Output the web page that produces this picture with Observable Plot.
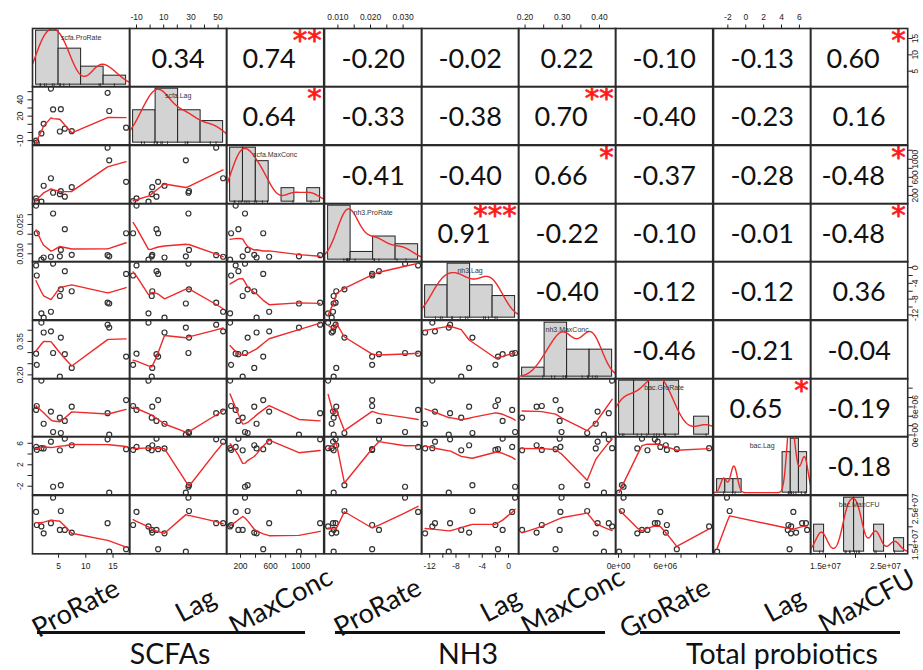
<!DOCTYPE html>
<html>
<head>
<meta charset="utf-8">
<script src="https://cdn.jsdelivr.net/npm/d3@7"></script>
<script src="https://cdn.jsdelivr.net/npm/@observablehq/plot@0.6"></script>
<style>
  body { margin: 0; background: #fff; }
  #chart { position: relative; width: 923px; height: 670px; overflow: hidden; background: #fff; font-family: "Liberation Sans", Arial, sans-serif; }
  #chart svg { position: absolute; overflow: visible; }
  .vname { position: absolute; font-family: Lato, "Open Sans", sans-serif; font-size: 27px; line-height: 1; color: #111; white-space: nowrap; transform: translate(-50%, -50%) rotate(-28deg); }
  .gname { position: absolute; font-family: Lato, "Open Sans", sans-serif; font-size: 28.5px; line-height: 1; color: #111; white-space: nowrap; transform: translate(-50%, -50%); }
  .gline { position: absolute; height: 3px; background: #111; }
</style>
</head>
<body>
<div id="chart"></div>
<script>
// ---------------- data (13 observations) ----------------
const varNames = ["scfa.ProRate", "scfa.Lag", "scfa.MaxConc", "nh3.ProRate", "nh3.Lag", "nh3.MaxConc", "bac.GroRate", "bac.Lag", "bac.MaxCFU"];
const scfaProRate = [0.88, 1.0, 1.85, 2.27, 3.6, 4.0, 5.24, 5.42, 6.15, 7.42, 14.0, 14.3, 17.4];
const scfaLag     = [-10, -12.5, -1.2, 10.6, 53.7, 28.2, 1.2, 28.6, 4.7, 1.6, 48.6, 26.3, 5.9];
const scfaMaxConc = [136, 75, 62, 414, 581, 260, 229, 295, 172, 383, 1258, 977, 502];
const nh3ProRate  = [0.0346, 0.0205, 0.0070, 0.0081, 0.0085, 0.0306, 0.0087, 0.0120, 0.0226, 0.0095, 0.0093, 0.0087, 0.0205];
const nh3Lag      = [0.55, -2.0, -11.6, -12.7, -11.2, 1.0, -7.2, -5.5, -0.9, -6.0, -8.9, -9.1, -1.6];
const nh3MaxConc  = [0.295, 0.245, 0.434, 0.39, 0.395, 0.298, 0.192, 0.367, 0.293, 0.231, 0.425, 0.412, 0.282];
const bacGroRate  = [5.35e6, 6.19e6, 11.6e6, 2.4e6, 5.0e6, 0.64e6, 3.7e6, 0.43e6, 3.0e6, 6.05e6, 4.65e6, 0.07e6, 7.46e6];
const bacLag      = [5.32, 4.77, 5.08, 5.05, 6.3, -2.1, 4.7, -1.8, 6.86, 5.63, 6.73, -3.2, 4.9];
const bacMaxCFU   = [24.15e6, 20.5e6, 20.1e6, 18.2e6, 21.0e6, 28.1e6, 19.15e6, 24.4e6, 19.15e6, 18.4e6, 21.0e6, 13.1e6, 13.8e6];

// histogram breaks for each variable
const histBreaks = [
  [0, 5, 10, 15, 20],
  [-20, 0, 20, 40, 60],
  [0, 200, 400, 600, 800, 1000, 1200, 1400],
  [0, 0.01, 0.02, 0.03, 0.04],
  [-15, -10, -5, 0, 5],
  [0.1, 0.2, 0.3, 0.4, 0.5],
  [0, 2e6, 4e6, 6e6, 8e6, 10e6, 12e6],
  [-4, -3, -2, -1, 0, 1, 2, 3, 4, 5, 6, 7],
  [12e6, 14e6, 16e6, 18e6, 20e6, 22e6, 24e6, 26e6, 28e6, 30e6]
];

// axis ticks and tick labels ("" = tick without label)
const axisTicks = [
  [5, 10, 15],
  [-10, 0, 10, 20, 30, 40, 50],
  [200, 400, 600, 800, 1000, 1200],
  [0.010, 0.015, 0.020, 0.025, 0.030],
  [-12, -10, -8, -6, -4, -2, 0],
  [0.20, 0.25, 0.30, 0.35, 0.40],
  [0, 2e6, 4e6, 6e6, 8e6, 10e6],
  [-2, 0, 2, 4, 6],
  [1.5e7, 2e7, 2.5e7]
];
const xAxisLabels = [
  ["5", "10", "15"],
  ["-10", "", "10", "", "30", "", "50"],
  ["200", "", "600", "", "1000", ""],
  ["0.010", "", "0.020", "", "0.030"],
  ["-12", "", "-8", "", "-4", "", "0"],
  ["0.20", "", "0.30", "", "0.40"],
  ["0e+00", "", "", "6e+06", "", ""],
  ["-2", "0", "2", "4", "6"],
  ["1.5e+07", "", "2.5e+07"]
];
const yAxisLabels = [
  ["5", "10", "15"],
  ["-10", "", "", "20", "", "40", ""],
  ["200", "", "600", "", "1000", ""],
  ["0.010", "", "", "0.025", ""],
  ["-12", "", "-8", "", "-4", "", "0"],
  ["0.20", "", "", "0.35", ""],
  ["0e+00", "", "", "6e+06", "", ""],
  ["-2", "", "2", "", "6"],
  ["1.5e+07", "", "2.5e+07"]
];

// upper-triangle correlation text (row by row) and significance stars
const corrText = [
  ["0.34", "0.74", "-0.20", "-0.02", "0.22", "-0.10", "-0.13", "0.60"],
  ["0.64", "-0.33", "-0.38", "0.70", "-0.40", "-0.23", "0.16"],
  ["-0.41", "-0.40", "0.66", "-0.37", "-0.28", "-0.48"],
  ["0.91", "-0.22", "-0.10", "-0.01", "-0.48"],
  ["-0.40", "-0.12", "-0.12", "0.36"],
  ["-0.46", "-0.21", "-0.04"],
  ["0.65", "-0.19"],
  ["-0.18"]
];
const corrStars = [
  ["", "**", "", "", "", "", "", "*"],
  ["*", "", "", "**", "", "", ""],
  ["", "", "*", "", "", "*"],
  ["***", "", "", "", "*"],
  ["", "", "", ""],
  ["", "", ""],
  ["*", ""],
  [""]
];

const varLabels = ["ProRate", "Lag", "MaxConc", "ProRate", "Lag", "MaxConc", "GroRate", "Lag", "MaxCFU"];
const groups = ["SCFAs", "NH3", "Total probiotics"];

// ---------------- helpers ----------------
const vars = [scfaProRate, scfaLag, scfaMaxConc, nh3ProRate, nh3Lag, nh3MaxConc, bacGroRate, bacLag, bacMaxCFU];
const N = scfaProRate.length;
const rows = d3.range(N).map(k => Object.fromEntries(vars.map((v, i) => ["v" + i, v[k]])));

function padDomain(lo, hi) { const p = 0.04 * (hi - lo); return [lo - p, hi + p]; }
const domains = vars.map(v => padDomain(d3.min(v), d3.max(v)));

function lowess(xIn, yIn, f = 2 / 3, iter = 3) {
  const n = xIn.length;
  const order = d3.range(n).sort((a, b) => xIn[a] - xIn[b]);
  const x = order.map(k => xIn[k]), y = order.map(k => yIn[k]);
  const ys = new Array(n).fill(0), rw = new Array(n).fill(1);
  const ns = Math.max(2, Math.min(n, Math.floor(f * n + 1e-7)));
  const range = x[n - 1] - x[0];
  function lowest(xs, nleft, nright, userw) {
    const h = Math.max(xs - x[nleft], x[nright] - xs);
    const h9 = 0.999 * h, h1 = 0.001 * h;
    const w = new Array(n).fill(0);
    let a = 0, j = nleft;
    while (j < n) {
      const r = Math.abs(x[j] - xs);
      if (r <= h9) {
        w[j] = r <= h1 ? 1 : Math.pow(1 - Math.pow(r / h, 3), 3);
        if (userw) w[j] *= rw[j];
        a += w[j];
      } else if (x[j] > xs) break;
      j++;
    }
    const nrt = j - 1;
    if (a <= 0) return null;
    for (j = nleft; j <= nrt; j++) w[j] /= a;
    if (h > 0) {
      let xb = 0;
      for (j = nleft; j <= nrt; j++) xb += w[j] * x[j];
      let b = xs - xb, c = 0;
      for (j = nleft; j <= nrt; j++) c += w[j] * (x[j] - xb) * (x[j] - xb);
      if (Math.sqrt(c) > 0.001 * range) {
        b /= c;
        for (j = nleft; j <= nrt; j++) w[j] *= (b * (x[j] - xb) + 1);
      }
    }
    let s = 0;
    for (j = nleft; j <= nrt; j++) s += w[j] * y[j];
    return s;
  }
  for (let it = 1; it <= iter + 1; it++) {
    let nleft = 0, nright = ns - 1;
    for (let i = 0; i < n; i++) {
      while (nright < n - 1) {
        const d1 = x[i] - x[nleft], d2 = x[nright + 1] - x[i];
        if (d1 <= d2) break;
        nleft++; nright++;
      }
      const v = lowest(x[i], nleft, nright, it > 1);
      ys[i] = v === null ? y[i] : v;
    }
    if (it > iter) break;
    const ares = y.map((yv, k) => Math.abs(yv - ys[k]));
    const sc = d3.sum(ares) / n;
    const sorted = ares.slice().sort((p, q) => p - q);
    const m1 = Math.floor(n / 2);
    const cmad = n % 2 === 0 ? 3 * (sorted[m1 - 1] + sorted[m1]) : 6 * sorted[m1];
    if (cmad < 1e-7 * sc) break;
    const c9 = 0.999 * cmad, c1 = 0.001 * cmad;
    for (let k = 0; k < n; k++) {
      const r = ares[k];
      rw[k] = r <= c1 ? 1 : r > c9 ? 0 : Math.pow(1 - (r / cmad) * (r / cmad), 2);
    }
  }
  return x.map((xv, k) => ({x: xv, y: ys[k]}));
}

function kde(v) {
  const n = v.length;
  const s = v.slice().sort(d3.ascending);
  const sd = d3.deviation(v);
  const iqr = d3.quantileSorted(s, 0.75) - d3.quantileSorted(s, 0.25);
  let lo = Math.min(sd, iqr / 1.34);
  if (!(lo > 0)) lo = sd;
  const bw = 0.9 * lo * Math.pow(n, -0.2);
  const from = s[0] - 3 * bw, to = s[n - 1] + 3 * bw;
  return d3.range(512).map(k => {
    const x = from + (to - from) * k / 511;
    const y = d3.sum(v, xi => Math.exp(-0.5 * ((x - xi) / bw) ** 2)) / (n * bw * Math.sqrt(2 * Math.PI));
    return {x, y};
  });
}

// ---------------- layout ----------------
const X0 = 32, Y0 = 28, CW = 875 / 9, CH = 525 / 9;
const RED = "#f02828";
const FRAME = {stroke: "#2a2a2a", strokeWidth: 1.6};
const chart = document.getElementById("chart");
const baseStyle = {background: "transparent", overflow: "visible", fontSize: "8.5px", fontFamily: "'Liberation Sans', Arial, sans-serif", color: "#222"};

function place(svg, col, row) {
  svg.style.left = (X0 + col * CW) + "px";
  svg.style.top = (Y0 + row * CH) + "px";
  chart.appendChild(svg);
}

function scatterCell(i, j) {
  return Plot.plot({
    width: CW, height: CH, margin: 0, style: baseStyle,
    x: {domain: domains[j], axis: null},
    y: {domain: domains[i], axis: null},
    marks: [
      Plot.dot(rows, {x: "v" + j, y: "v" + i, r: 2.5, stroke: "#333", strokeWidth: 1.2, fill: "none", clip: true}),
      Plot.line(lowess(vars[j], vars[i]), {x: "x", y: "y", stroke: RED, strokeWidth: 1.4, clip: true}),
      Plot.frame(FRAME)
    ]
  });
}

function diagCell(i) {
  const v = vars[i], br = histBreaks[i];
  const w = br[1] - br[0];
  const counts = d3.range(br.length - 1).map(k => v.filter(d => d > br[k] && d <= br[k + 1]).length);
  const maxD = d3.max(counts) / (N * w);
  return Plot.plot({
    width: CW, height: CH, margin: 0, style: baseStyle,
    x: {domain: padDomain(br[0], br[br.length - 1]), axis: null},
    y: {domain: padDomain(0, maxD), axis: null},
    marks: [
      Plot.rectY(v, Plot.binX({y: (vals) => vals.length / (N * w), filter: null}, {x: d => d, thresholds: br, fill: "#d3d3d3", stroke: "#222", strokeWidth: 1, inset: 0})),
      Plot.line(kde(v), {x: "x", y: "y", stroke: RED, strokeWidth: 1.4, clip: true}),
      Plot.tickX(v, {x: d => d, insetTop: CH - 3, stroke: "#222", strokeWidth: 0.8}),
      Plot.text([varNames[i]], {frameAnchor: "top", dy: 7, fontSize: 7, fill: "#333"}),
      Plot.frame(FRAME)
    ]
  });
}

function textCell(i, j) {
  const txt = corrText[i][j - i - 1];
  const st = corrStars[i][j - i - 1];
  const shift = st ? -6 : 0;
  return Plot.plot({
    width: CW, height: CH, margin: 0, style: baseStyle,
    marks: [
      Plot.text([txt], {frameAnchor: "middle", dx: shift, dy: 2, fontSize: 27, fontFamily: "Lato, 'Open Sans', sans-serif", fill: "#111"}),
      Plot.text([st], {frameAnchor: "top-right", textAnchor: "end", lineAnchor: "middle", dx: -2, dy: 12, fontSize: 29, fontFamily: "'DejaVu Sans', sans-serif", fill: "#ff1a1a", stroke: "#ff1a1a", strokeWidth: 0.8}),
      Plot.frame(FRAME)
    ]
  });
}

function axisCell(v, anchor, col, row) {
  const isX = anchor === "top" || anchor === "bottom";
  const labs = isX ? xAxisLabels[v] : yAxisLabels[v];
  const m = new Map(axisTicks[v].map((t, k) => [t, labs[k]]));
  const sc = {domain: domains[v], axis: anchor, ticks: axisTicks[v], tickFormat: d => m.get(d) ?? "", tickSize: 4.5, tickPadding: isX ? 4.5 : 5.5, label: null};
  if (!isX) sc.tickRotate = -90;
  const opts = {width: CW, height: CH, margin: 0, style: baseStyle,
    marks: [isX ? Plot.ruleX(domains[v], {x: d => d, stroke: "none"}) : Plot.ruleY(domains[v], {y: d => d, stroke: "none"})]};
  opts[isX ? "x" : "y"] = sc;
  place(Plot.plot(opts), col, row);
}

// ---------------- draw matrix ----------------
for (let i = 0; i < 9; i++) {
  for (let j = 0; j < 9; j++) {
    let svg;
    if (i === j) svg = diagCell(i);
    else if (i > j) svg = scatterCell(i, j);
    else svg = textCell(i, j);
    place(svg, j, i);
  }
}
for (let k = 0; k < 9; k++) {
  if (k % 2 === 1) axisCell(k, "top", k, 0); else axisCell(k, "bottom", k, 8);
  if (k % 2 === 1) axisCell(k, "left", 0, k); else axisCell(k, "right", 8, k);
}

// ---------------- bottom labels ----------------
const vnamePos = [[75, 607], [195, 604], [280, 600], [377, 606], [500, 604], [572, 600], [664, 607], [784, 604], [866, 600]];
varLabels.forEach((t, k) => {
  const d = document.createElement("div");
  d.className = "vname"; d.textContent = t;
  d.style.left = vnamePos[k][0] + "px"; d.style.top = vnamePos[k][1] + "px";
  chart.appendChild(d);
});
const groupLines = [[37, 305], [335, 605], [640, 900]];
const groupCenters = [170, 468, 782];
groups.forEach((g, k) => {
  const l = document.createElement("div");
  l.className = "gline";
  l.style.left = groupLines[k][0] + "px"; l.style.width = (groupLines[k][1] - groupLines[k][0]) + "px"; l.style.top = "631px";
  chart.appendChild(l);
  const d = document.createElement("div");
  d.className = "gname"; d.textContent = g;
  d.style.left = groupCenters[k] + "px"; d.style.top = "653px";
  chart.appendChild(d);
});
</script>
</body>
</html>
